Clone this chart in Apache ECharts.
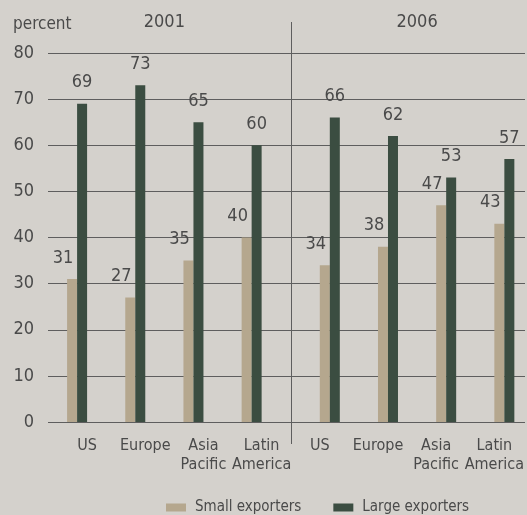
<!DOCTYPE html>
<html>
<head>
<meta charset="utf-8">
<style>
html,body{margin:0;padding:0;background:#d4d1cc;}
#c{width:527px;height:515px;}
</style>
<script src="https://cdn.jsdelivr.net/npm/echarts@6/dist/echarts.min.js"></script>
</head>
<body>
<div id="c"></div>
<script>
// ---- data ----
const regions = ['US', 'Europe', 'Asia\nPacific', 'Latin\nAmerica'];
const years = ['2001', '2006'];
const small2001 = [31, 27, 35, 40];
const large2001 = [69, 73, 65, 60];
const small2006 = [34, 38, 47, 43];
const large2006 = [66, 62, 53, 57];
const yTicks = { min: 0, max: 80, interval: 10 };
const seriesNames = ['Small exporters', 'Large exporters'];
const unitLabel = 'percent';

// ---- styles ----
const FONT = "'Liberation Sans Narrow','DejaVu Sans Condensed',sans-serif";
const TXT = '#4a4a4a';
const LINE = '#5e5e5e';
const TAN = '#b5a78e';
const GREEN = '#3b4d41';
const BG = '#d4d1cc';

const blank = regions.map(() => null);
const cats = regions.concat(regions);

const chart = echarts.init(document.getElementById('c'));

function barSeries(name, data, color, small) {
  return {
    name: name, type: 'bar', xAxisIndex: 1, yAxisIndex: 1,
    data: data, barWidth: 10, barGap: '0%',
    itemStyle: { color: color },
    label: {
      show: true, position: 'top', distance: 12,
      offset: small ? [-9, 0] : [0, 0],
      fontFamily: FONT, fontSize: 18, color: TXT
    },
    emphasis: { disabled: true }
  };
}

chart.setOption({
  backgroundColor: BG,
  animation: false,
  textStyle: { fontFamily: FONT, color: TXT },
  grid: [
    { left: 48, right: 2, top: 53, bottom: 93 },
    { left: 58, right: 3, top: 53, bottom: 93 }
  ],
  xAxis: [
    { gridIndex: 0, type: 'value', show: false, min: 0, max: 1 },
    {
      gridIndex: 1, type: 'category', data: cats,
      axisLine: { lineStyle: { color: LINE, width: 1 } },
      axisTick: { length: 4, lineStyle: { color: LINE } },
      axisLabel: { fontFamily: FONT, fontSize: 16, lineHeight: 19, color: TXT, margin: 14, interval: 0 }
    }
  ],
  yAxis: [
    {
      gridIndex: 0, type: 'value', min: yTicks.min, max: yTicks.max, interval: yTicks.interval,
      axisLine: { show: false }, axisTick: { show: false },
      axisLabel: { fontFamily: FONT, fontSize: 18, color: TXT, margin: 14 },
      splitLine: { lineStyle: { color: LINE, width: 1 } }
    },
    { gridIndex: 1, type: 'value', min: yTicks.min, max: yTicks.max, interval: yTicks.interval, show: false }
  ],
  legend: {
    data: seriesNames, left: 166, top: 500, padding: 0,
    itemWidth: 20, itemHeight: 8, itemGap: 32, icon: 'rect',
    textStyle: { fontFamily: FONT, fontSize: 15, color: TXT, padding: [0, 0, 0, 4] }
  },
  series: [
    barSeries(seriesNames[0], small2001.concat(blank), TAN, true),
    barSeries(seriesNames[1], large2001.concat(blank), GREEN, false),
    barSeries(seriesNames[0], blank.concat(small2006), TAN, true),
    barSeries(seriesNames[1], blank.concat(large2006), GREEN, false)
  ]
});

// divider and year titles derived from the axis
const px = i => chart.convertToPixel({ xAxisIndex: 1 }, i);
const n = regions.length;
const divX = Math.round((px(n - 1) + px(n)) / 2) + 0.5;
const title1X = (px(1) + px(2)) / 2 - 10;
const title2X = (px(n + 1) + px(n + 2)) / 2 + 10;

chart.setOption({
  graphic: [
    { type: 'line', shape: { x1: divX, y1: 22, x2: divX, y2: 444 }, style: { stroke: LINE, lineWidth: 1 }, silent: true },
    { type: 'text', x: title1X, y: 22, style: { text: years[0], fontFamily: FONT, fontSize: 18, fill: TXT, align: 'center', verticalAlign: 'middle' } },
    { type: 'text', x: title2X, y: 22, style: { text: years[1], fontFamily: FONT, fontSize: 18, fill: TXT, align: 'center', verticalAlign: 'middle' } },
    { type: 'text', x: 13, y: 25, style: { text: unitLabel, fontFamily: FONT, fontSize: 17, fill: TXT, align: 'left', verticalAlign: 'middle' } }
  ]
});
</script>
</body>
</html>
